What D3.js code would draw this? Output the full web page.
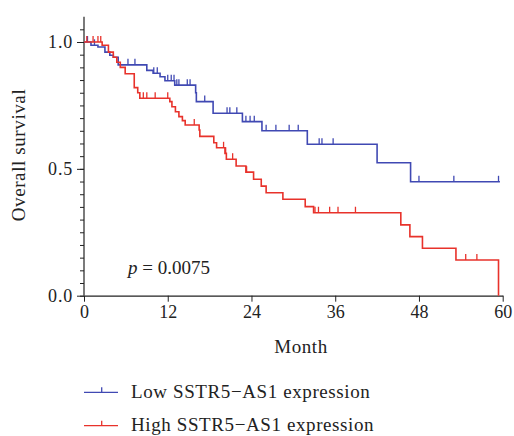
<!DOCTYPE html>
<html>
<head>
<meta charset="utf-8">
<script src="https://cdn.jsdelivr.net/npm/d3@7"></script>
<style>
body{margin:0;background:#fff;}
text{font-family:"Liberation Serif","DejaVu Serif",serif;fill:#222;}
</style>
</head>
<body>
<div id="chart"></div>
<script>
// low SSTR5-AS1 expression: step times (months) and survival after each step
var lowTimes = [0, 1.0, 2.0, 3.0, 3.7, 4.2, 4.9, 9.0, 9.9, 10.9, 11.6, 13.0, 16.0, 16.1, 18.5, 22.7, 25.5, 32.0, 42.0, 46.8, 59.6];
var lowSurv  = [1.0, 0.987, 0.98, 0.96, 0.948, 0.94, 0.91, 0.888, 0.877, 0.863, 0.847, 0.83, 0.80, 0.765, 0.719, 0.686, 0.65, 0.597, 0.524, 0.449, 0.449];
var lowCensor = [0.5, 1.5, 6.3, 7.3, 10.0, 10.5, 12.0, 12.5, 12.9, 13.3, 13.6, 14.8, 15.2, 17.3, 20.5, 20.9, 21.9,
                 23.2, 23.8, 24.4, 26.1, 27.5, 29.4, 30.7, 33.7, 34.1, 35.7, 48.0, 53.0, 59.4];

// high SSTR5-AS1 expression
var highTimes = [0, 2.6, 3.5, 4.2, 4.7, 5.2, 5.9, 7.2, 7.7, 8.0, 12.3, 12.6, 13.1, 13.6, 14.1, 14.5, 16.5, 16.6, 18.6, 19.0,
                 20.2, 20.4, 21.8, 23.2, 24.3, 25.4, 26.1, 28.5, 31.7, 32.9, 45.4, 46.7, 48.5, 53.3, 59.4];
var highSurv  = [1.0, 0.987, 0.96, 0.94, 0.92, 0.90, 0.875, 0.82, 0.80, 0.778, 0.765, 0.745, 0.725, 0.706, 0.69, 0.673, 0.653, 0.628, 0.603, 0.583,
                 0.561, 0.538, 0.511, 0.487, 0.459, 0.432, 0.406, 0.38, 0.351, 0.327, 0.279, 0.233, 0.187, 0.141, 0.0];
var highCensor = [0.4, 1.3, 2.0, 2.4, 8.5, 9.0, 10.2, 12.0, 15.8, 20.0, 20.3, 21.3, 23.3,
                  33.1, 33.6, 35.2, 36.4, 38.9, 54.7, 56.3];

var xTicks = [0, 12, 24, 36, 48, 60];
var yLabels = [0, 0.5, 1.0];

var series = [
  {name: "Low SSTR5\u2212AS1 expression", times: lowTimes, surv: lowSurv, censor: lowCensor, color: "#4049b3"},
  {name: "High SSTR5\u2212AS1 expression", times: highTimes, surv: highSurv, censor: highCensor, color: "#e8322b"}
];

var width = 514, height = 436;
var svg = d3.select("#chart").append("svg")
  .attr("width", width).attr("height", height);

var x = d3.scaleLinear().domain([0, 60]).range([84, 502.7]);
var y = d3.scaleLinear().domain([0, 1]).range([295.7, 42]);

// y axis: minor ticks every 0.05, labels at 0, 0.5, 1
var yAxis = d3.axisLeft(y)
  .tickValues(d3.range(0, 1.06, 0.05))
  .tickSize(4)
  .tickFormat("");
var gy = svg.append("g").attr("transform", "translate(" + x(0) + ",0)").call(yAxis);
gy.select(".domain").remove();
svg.append("line")
  .attr("x1", x(0)).attr("x2", x(0))
  .attr("y1", y(0)).attr("y2", y(1.1))
  .attr("stroke", "#222").attr("stroke-width", 1.2);
gy.selectAll(".tick line").attr("stroke", "#222");
var gyMajor = svg.append("g").attr("transform", "translate(" + x(0) + ",0)")
  .call(d3.axisLeft(y).tickValues(yLabels).tickSize(7).tickPadding(4).tickFormat(d3.format(".1f")));
gyMajor.select(".domain").remove();
gyMajor.selectAll(".tick line").attr("stroke", "#222");
gyMajor.selectAll("text").style("font-size", "18px").style("letter-spacing", "0.8px").attr("fill", "#222")
  .style("font-family", "Liberation Serif");

// x axis
var gx = svg.append("g").attr("transform", "translate(0," + y(0) + ")")
  .call(d3.axisBottom(x).tickValues(xTicks).tickSize(6).tickPadding(4).tickSizeOuter(0));
gx.select(".domain").attr("stroke", "#222").attr("stroke-width", 1.2);
gx.selectAll(".tick line").attr("stroke", "#222");
gx.selectAll("text").style("font-size", "18px").attr("fill", "#222")
  .style("font-family", "Liberation Serif");

svg.append("text")
  .attr("x", 301).attr("y", 353)
  .attr("text-anchor", "middle")
  .style("font-size", "19px")
  .style("letter-spacing", "0.6px")
  .text("Month");

svg.append("text")
  .attr("text-anchor", "middle")
  .attr("transform", "translate(25," + 155 + ")rotate(-90)")
  .style("font-size", "19px")
  .style("letter-spacing", "0.6px")
  .text("Overall survival");

// p value
var pt = svg.append("text").attr("x", 128).attr("y", 274).style("font-size", "19px");
pt.append("tspan").style("font-style", "italic").text("p");
pt.append("tspan").text(" = 0.0075");

var line = d3.line()
  .x(function(d){ return x(d[0]); })
  .y(function(d){ return y(d[1]); })
  .curve(d3.curveStepAfter);

function survAt(s, t){
  var v = s.surv[0];
  for (var i = 0; i < s.times.length; i++){
    if (s.times[i] <= t) v = s.surv[i];
  }
  return v;
}

series.forEach(function(s){
  var pts = s.times.map(function(t, i){ return [t, s.surv[i]]; });
  svg.append("path")
    .datum(pts)
    .attr("fill", "none")
    .attr("stroke", s.color)
    .attr("stroke-width", 1.6)
    .attr("d", line);

  svg.selectAll(null)
    .data(s.censor)
    .enter()
    .append("line")
    .attr("x1", function(d){ return x(d); })
    .attr("x2", function(d){ return x(d); })
    .attr("y1", function(d){ return y(survAt(s, d)); })
    .attr("y2", function(d){ return y(survAt(s, d)) - 6; })
    .attr("stroke", s.color)
    .attr("stroke-width", 1.3);
});

// legend
var leg = svg.append("g");
series.forEach(function(s, i){
  var ly = 392.3 + i * 33.4;
  leg.append("line").attr("x1", 84).attr("x2", 118).attr("y1", ly).attr("y2", ly)
    .attr("stroke", s.color).attr("stroke-width", 1.3);
  leg.append("line").attr("x1", 101.7).attr("x2", 101.7).attr("y1", ly).attr("y2", ly - 5)
    .attr("stroke", s.color).attr("stroke-width", 1.3);
  leg.append("text").attr("x", 131).attr("y", ly + 5.5)
    .style("font-size", "19px")
    .style("letter-spacing", "0.6px")
    .text(s.name);
});
</script>
</body>
</html>
